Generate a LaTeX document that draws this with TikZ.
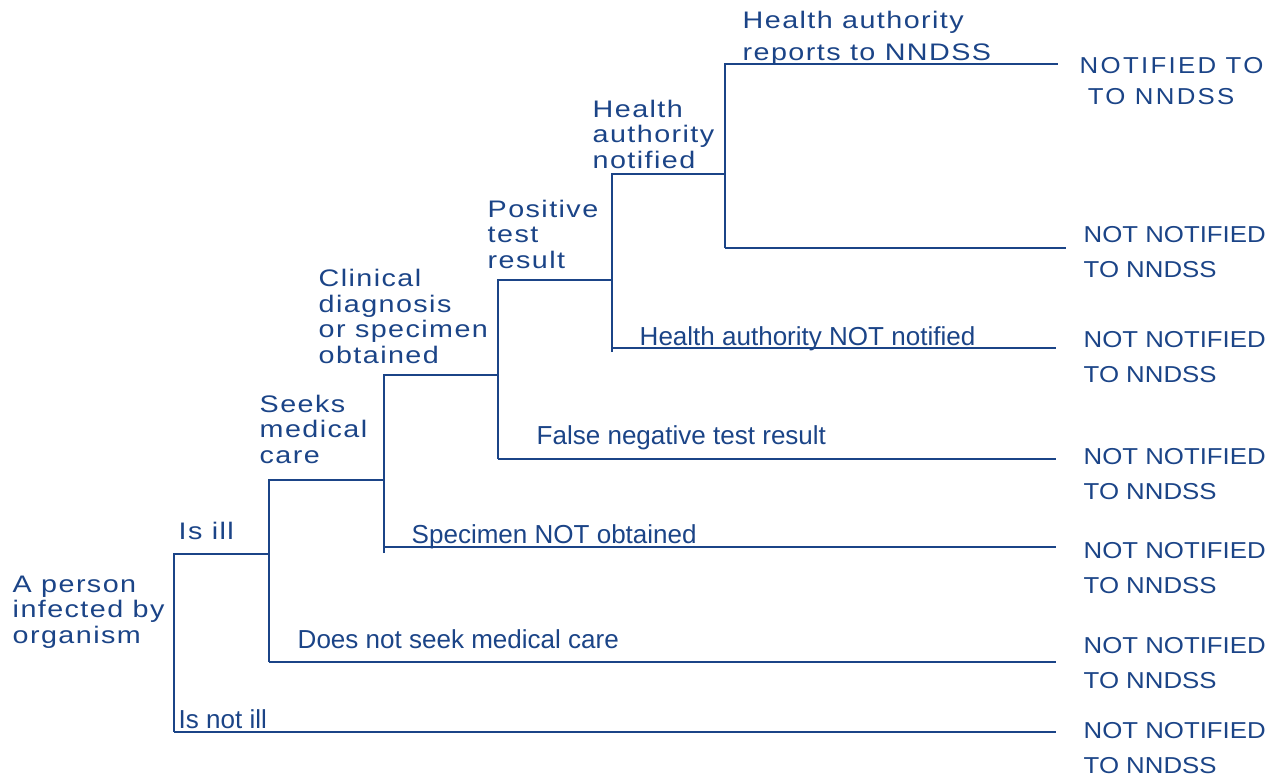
\documentclass[tikz,border=0pt]{standalone}
\usepackage{fontspec}
\setmainfont{Liberation Sans}
\newfontfamily\spacedfont[FakeStretch=1.2,LetterSpace=6]{Liberation Sans}
\newfontfamily\leaffont[FakeStretch=1.12]{Liberation Sans}
\newfontfamily\leafwidefont[FakeStretch=1.12,LetterSpace=10]{Liberation Sans}
\definecolor{treeblue}{RGB}{27,68,135}

\begin{document}
\begin{tikzpicture}[x=0.01cm,y=-0.01cm]
	\tikzset{%
		branch/.style={draw=treeblue,line width=0.55pt},
		txt/.style={text=treeblue,inner sep=0pt,anchor=base west,align=left},
		spaced/.style={txt,font=\spacedfont\fontsize{6.8}{7.25}\selectfont},
		flat/.style={txt,font=\fontsize{7.4}{8}\selectfont},
		leaf/.style={txt,font=\leaffont\fontsize{6.55}{9.7}\selectfont},
	}
	\useasboundingbox (0,0) rectangle (1268,775);

	\def\endx{1056}

	% forks of the tree
	\coordinate (a0) at (174,554);  \coordinate (a1) at (174,732);
	\coordinate (b0) at (269,480);  \coordinate (b1) at (269,662);  \coordinate (bm) at (269,554);
	\coordinate (c0) at (384,375);  \coordinate (c1) at (384,553);  \coordinate (cm) at (384,480);
	\coordinate (cd) at (384,547);
	\coordinate (d0) at (498,280);  \coordinate (d1) at (498,459);  \coordinate (dm) at (498,375);
	\coordinate (f0) at (612,174);  \coordinate (f1) at (612,352);  \coordinate (fm) at (612,280);
	\coordinate (fd) at (612,348);
	\coordinate (g0) at (725,64);   \coordinate (g1) at (725,248);  \coordinate (gm) at (725,174);

	% loose ends
	\coordinate (e1) at (1058,64);
	\coordinate (e2) at (1066,248);
	\coordinate (e3) at (\endx,348);
	\coordinate (e4) at (\endx,459);
	\coordinate (e5) at (\endx,547);
	\coordinate (e6) at (\endx,662);
	\coordinate (e7) at (\endx,732);

	\draw [branch] (a1) -- (a0) -- (bm);
	\draw [branch] (a1) -- (e7);
	\draw [branch] (b1) -- (b0) -- (cm);
	\draw [branch] (b1) -- (e6);
	\draw [branch] (c1) -- (c0) -- (dm);
	\draw [branch] (cd) -- (e5);
	\draw [branch] (d1) -- (d0) -- (fm);
	\draw [branch] (d1) -- (e4);
	\draw [branch] (f1) -- (f0) -- (gm);
	\draw [branch] (fd) -- (e3);
	\draw [branch] (g1) -- (g0) -- (e1);
	\draw [branch] (g1) -- (e2);

	% labels on the branches (placed by their last line)
	\node [spaced] (person) at (12,643) {A person\\infected by\\organism};
	\node [spaced] (ill) at (178,539) {Is ill};
	\node [flat] (notill) at (178,728) {Is not ill};
	\node [spaced] (seeks) at (259,463) {Seeks\\medical\\care};
	\node [flat] (noseek) at (297,648) {Does not seek medical care};
	\node [spaced] (clinical) at (318,363) {Clinical\\diagnosis\\or specimen\\obtained};
	\node [flat] (nospec) at (411,543) {Specimen NOT obtained};
	\node [spaced] (positive) at (487,268) {Positive\\test\\result};
	\node [flat] (falseneg) at (536,444) {False negative test result};
	\node [spaced] (hanotified) at (592,168) {Health\\authority\\notified};
	\node [flat] (hanot) at (639,345) {Health authority NOT notified};
	\node [spaced] (hareports) at (742,60) {Health authority\\[1.7pt]reports to NNDSS};

	% outcomes
	\node [leaf,font=\leafwidefont\fontsize{6.55}{8.8}\selectfont] (out1) at (1079,104) {NOTIFIED TO\\\hspace*{2.3pt}TO NNDSS};
	\node [leaf] (out2) at (1083,277) {NOT NOTIFIED\\TO NNDSS};
	\node [leaf] (out3) at (1083,382) {NOT NOTIFIED\\TO NNDSS};
	\node [leaf] (out4) at (1083,499) {NOT NOTIFIED\\TO NNDSS};
	\node [leaf] (out5) at (1083,593) {NOT NOTIFIED\\TO NNDSS};
	\node [leaf] (out6) at (1083,688) {NOT NOTIFIED\\TO NNDSS};
	\node [leaf] (out7) at (1083,773) {NOT NOTIFIED\\TO NNDSS};
\end{tikzpicture}
\end{document}
